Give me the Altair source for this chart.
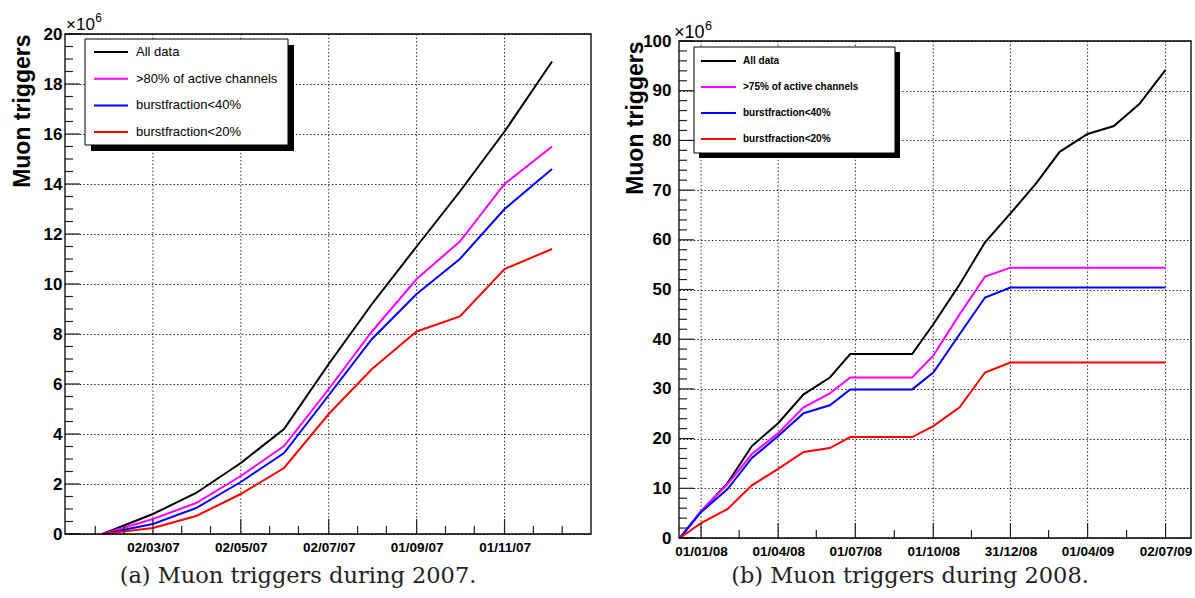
import altair as alt
import pandas as pd

FONT = "Liberation Sans"
SERIF = "DejaVu Serif"

series_keys = ["all", "active", "burst40", "burst20"]
series_colors = ["#000000", "#ff00ff", "#0000ff", "#ff0000"]

# ---------------- (a) 2007 ----------------
dates_a = ["2007-01-26", "2007-03-02", "2007-04-01", "2007-05-02", "2007-06-01", "2007-07-02",
           "2007-08-01", "2007-09-01", "2007-10-01", "2007-11-01", "2007-12-04"]
all_a = [0, 0.8, 1.64, 2.84, 4.2, 6.8, 9.2, 11.5, 13.7, 16.1, 18.9]
active_a = [0, 0.6, 1.24, 2.32, 3.52, 5.8, 8.1, 10.2, 11.7, 14.0, 15.5]
burst40_a = [0, 0.4, 1.04, 2.08, 3.24, 5.55, 7.8, 9.6, 11.0, 13.0, 14.6]
burst20_a = [0, 0.24, 0.72, 1.6, 2.64, 4.8, 6.6, 8.1, 8.7, 10.6, 11.4]
legend_a = ["All data", ">80% of active channels", "burstfraction<40%", "burstfraction<20%"]
xdomain_a = ["2006-12-31", "2007-12-31"]
xmajor_a = ["2007-03-02", "2007-05-02", "2007-07-02", "2007-09-01", "2007-11-01"]
xminor_a = ["2007-01-21", "2007-02-10", "2007-03-22", "2007-04-11", "2007-05-22", "2007-06-11",
            "2007-07-22", "2007-08-11", "2007-09-21", "2007-10-11", "2007-11-21", "2007-12-11"]
ymajor_a = [0, 2, 4, 6, 8, 10, 12, 14, 16, 18, 20]
yminor_a = [0.5, 1, 1.5, 2.5, 3, 3.5, 4.5, 5, 5.5, 6.5, 7, 7.5, 8.5, 9, 9.5, 10.5, 11, 11.5,
            12.5, 13, 13.5, 14.5, 15, 15.5, 16.5, 17, 17.5, 18.5, 19, 19.5]
caption_a = "(a) Muon triggers during 2007."

# ---------------- (b) 2008 ----------------
dates_b = ["2007-12-07", "2008-01-01", "2008-02-01", "2008-03-01", "2008-04-01", "2008-05-01",
           "2008-06-01", "2008-06-25", "2008-09-06", "2008-10-01", "2008-11-01", "2008-12-01",
           "2008-12-31", "2009-01-31", "2009-02-27", "2009-04-01", "2009-05-02", "2009-06-01",
           "2009-07-02"]
all_b = [0, 5.4, 11.0, 18.5, 23.1, 28.9, 32.3, 37.0, 37.0, 43.0, 51.0, 59.5, 65.3, 71.5,
         77.7, 81.3, 82.9, 87.3, 94.2]
active_b = [0, 5.4, 10.8, 16.9, 21.1, 26.3, 29.1, 32.3, 32.3, 36.7, 45.0, 52.6, 54.4, 54.4,
            54.4, 54.4, 54.4, 54.4, 54.4]
burst40_b = [0, 5.2, 9.8, 16.1, 20.5, 25.1, 26.7, 29.9, 29.9, 33.3, 41.0, 48.4, 50.4, 50.4,
             50.4, 50.4, 50.4, 50.4, 50.4]
burst20_b = [0, 3.0, 5.8, 10.6, 13.9, 17.3, 18.1, 20.3, 20.3, 22.5, 26.3, 33.3, 35.3, 35.3,
             35.3, 35.3, 35.3, 35.3, 35.3]
legend_b = ["All data", ">75% of active channels", "burstfraction<40%", "burstfraction<20%"]
xdomain_b = ["2007-12-06", "2009-08-01"]
xmajor_b = ["2008-01-01", "2008-04-01", "2008-07-01", "2008-10-01", "2008-12-31", "2009-04-01",
            "2009-07-02"]
xminor_b = ["2008-02-15", "2008-05-16", "2008-08-16", "2008-11-15", "2009-02-14", "2009-05-17"]
ymajor_b = [0, 10, 20, 30, 40, 50, 60, 70, 80, 90, 100]
yminor_b = [v for v in range(2, 100, 2) if v % 10 != 0]
caption_b = "(b) Muon triggers during 2008."


def dt(s):
    y, m, d = (int(p) for p in s.split("-"))
    return alt.DateTime(year=y, month=m, date=d, utc=True)


one = pd.DataFrame({"k": [0]})
GRID_DASH = [1.4, 2.2]


def panel(dates, vals, legend_labels, xdomain, xmajor, xminor, ymajor, yminor, ymax,
          W, H, yoff, ylab_pad, title_x, leg, expo, caption, cap_xy, top_reserve):
    HV = H + yoff  # view height; the frame runs from yoff to HV
    df = pd.DataFrame([{"date": d, "val": v, "series": k}
                       for k, arr in zip(series_keys, vals) for d, v in zip(dates, arr)])
    xscale = alt.Scale(type="utc", domain=[dt(xdomain[0]), dt(xdomain[1])], nice=False)
    yscale = alt.Scale(domain=[0, ymax], nice=False, range=[HV, yoff])
    xaxis = alt.Axis(values=[dt(s) for s in xmajor],
                     labelExpr="utcFormat(datum.value, '%d/%m/%y')",
                     labelFont=FONT, labelFontSize=13.5, labelFontWeight="bold",
                     labelColor="#000", labelPadding=6, labelOverlap=False, labelFlush=False,
                     ticks=False, domain=False, grid=False)
    yaxis = alt.Axis(values=ymajor, format="d", labelFont=FONT, labelFontSize=17,
                     labelFontWeight="bold", labelColor="#000", labelPadding=ylab_pad,
                     ticks=False, domain=False, grid=True, gridColor="#222",
                     gridDash=GRID_DASH, gridWidth=1,
                     titleFont=FONT, titleFontSize=23, titleFontWeight="bold",
                     titleColor="#000", titleAngle=270, titleAlign="right",
                     titleBaseline="alphabetic", titleX=title_x, titleY=yoff)

    def X(field="date"):
        return alt.X(field + ":T", scale=xscale, axis=xaxis, title=None)

    def Y(field="val"):
        return alt.Y(field + ":Q", scale=yscale, axis=yaxis, title="Muon triggers")

    layers = []
    # vertical dotted grid at the labelled dates
    layers.append(alt.Chart(pd.DataFrame({"date": xmajor})).mark_rule(
        color="#222", strokeWidth=1, strokeDash=GRID_DASH).encode(
        x=X(), y=alt.value(yoff), y2=alt.value(HV)))
    layers.append(alt.Chart(df).mark_line(strokeWidth=2).encode(
        x=X(), y=Y(),
        color=alt.Color("series:N", scale=alt.Scale(domain=series_keys, range=series_colors),
                        legend=None),
    ))
    # axis ticks drawn inside the frame (ROOT style)
    for vals_t, L in ((ymajor, 15), (yminor, 8)):
        layers.append(alt.Chart(pd.DataFrame({"val": vals_t})).mark_rule(
            color="#222", strokeWidth=1.2).encode(
            y=Y(), x=alt.value(0), x2=alt.value(L)))
    for vals_t, L in ((xmajor, 15), (xminor, 8)):
        layers.append(alt.Chart(pd.DataFrame({"date": vals_t})).mark_rule(
            color="#222", strokeWidth=1.2).encode(
            x=X(), y=alt.value(HV), y2=alt.value(HV - L)))
    # frame
    layers.append(alt.Chart(one).mark_rect(fillOpacity=0, stroke="#000", strokeWidth=1.3).encode(
        x=alt.value(0), x2=alt.value(W), y=alt.value(yoff), y2=alt.value(HV)))
    # invisible spacer that fixes how far the panel reaches above its view
    if top_reserve:
        layers.append(alt.Chart(one).mark_rect(opacity=0).encode(
            x=alt.value(0), x2=alt.value(1), y=alt.value(-top_reserve),
            y2=alt.value(-top_reserve + 1)))
    # x10^6 exponent
    ex, ey, efs = expo
    ey += yoff
    layers.append(alt.Chart(one).mark_text(text="\u00d710", align="left", baseline="alphabetic",
                                           font=FONT, fontSize=efs, color="#000").encode(
        x=alt.value(ex), y=alt.value(ey)))
    layers.append(alt.Chart(one).mark_text(text="6", align="left", baseline="alphabetic",
                                           font=FONT, fontSize=efs * 0.7, color="#000").encode(
        x=alt.value(ex + efs * 1.72), y=alt.value(ey - efs * 0.45)))
    # legend box with shadow
    lx0, ly0, lx1, ly1, sh, sx0, sx1, tx, ry0, dy, lfs, lfw = leg
    ly0 += yoff
    ly1 += yoff
    ry0 += yoff
    layers.append(alt.Chart(one).mark_rect(color="#000").encode(
        x=alt.value(lx0 + sh), x2=alt.value(lx1 + sh), y=alt.value(ly0 + sh), y2=alt.value(ly1 + sh)))
    layers.append(alt.Chart(one).mark_rect(fill="#fff", stroke="#000", strokeWidth=1).encode(
        x=alt.value(lx0), x2=alt.value(lx1), y=alt.value(ly0), y2=alt.value(ly1)))
    for i, (lab, col) in enumerate(zip(legend_labels, series_colors)):
        yy = ry0 + i * dy
        layers.append(alt.Chart(one).mark_rule(color=col, strokeWidth=2).encode(
            x=alt.value(sx0), x2=alt.value(sx1), y=alt.value(yy)))
        layers.append(alt.Chart(one).mark_text(text=lab, align="left", baseline="middle",
                                               font=FONT, fontSize=lfs, fontWeight=lfw,
                                               color="#000").encode(
            x=alt.value(tx), y=alt.value(yy)))
    # caption
    layers.append(alt.Chart(one).mark_text(text=caption, align="center", baseline="alphabetic",
                                           font=SERIF, fontSize=22.5, color="#222").encode(
        x=alt.value(cap_xy[0]), y=alt.value(cap_xy[1] + yoff)))
    return alt.layer(*layers).properties(width=W, height=HV)


left = panel(dates_a, [all_a, active_a, burst40_a, burst20_a], legend_a, xdomain_a, xmajor_a,
             xminor_a, ymajor_a, yminor_a, 20, 526, 500, 0, 3, -36,
             (20, 5, 223, 111, 6, 29, 63, 71, 18, 26.7, 13, "normal"),
             (1, -4, 17), caption_a, (233, 549), 24)
right = panel(dates_b, [all_b, active_b, burst40_b, burst20_b], legend_b, xdomain_b, xmajor_b,
              xminor_b, ymajor_b, yminor_b, 100, 512, 497, 7, 8, -37,
              (15, 6, 216, 112, 5, 22, 57, 64, 20, 26, 10, "bold"),
              (-5, -3, 18), caption_b, (231, 542), 0)

chart = alt.hconcat(left, right, spacing=30).properties(
    padding={"left": 10, "top": 9, "right": 0, "bottom": 0},
    background="#ffffff",
).configure_view(stroke="transparent")

chart.save("out.html", embed_options={"renderer": "svg", "actions": False})
